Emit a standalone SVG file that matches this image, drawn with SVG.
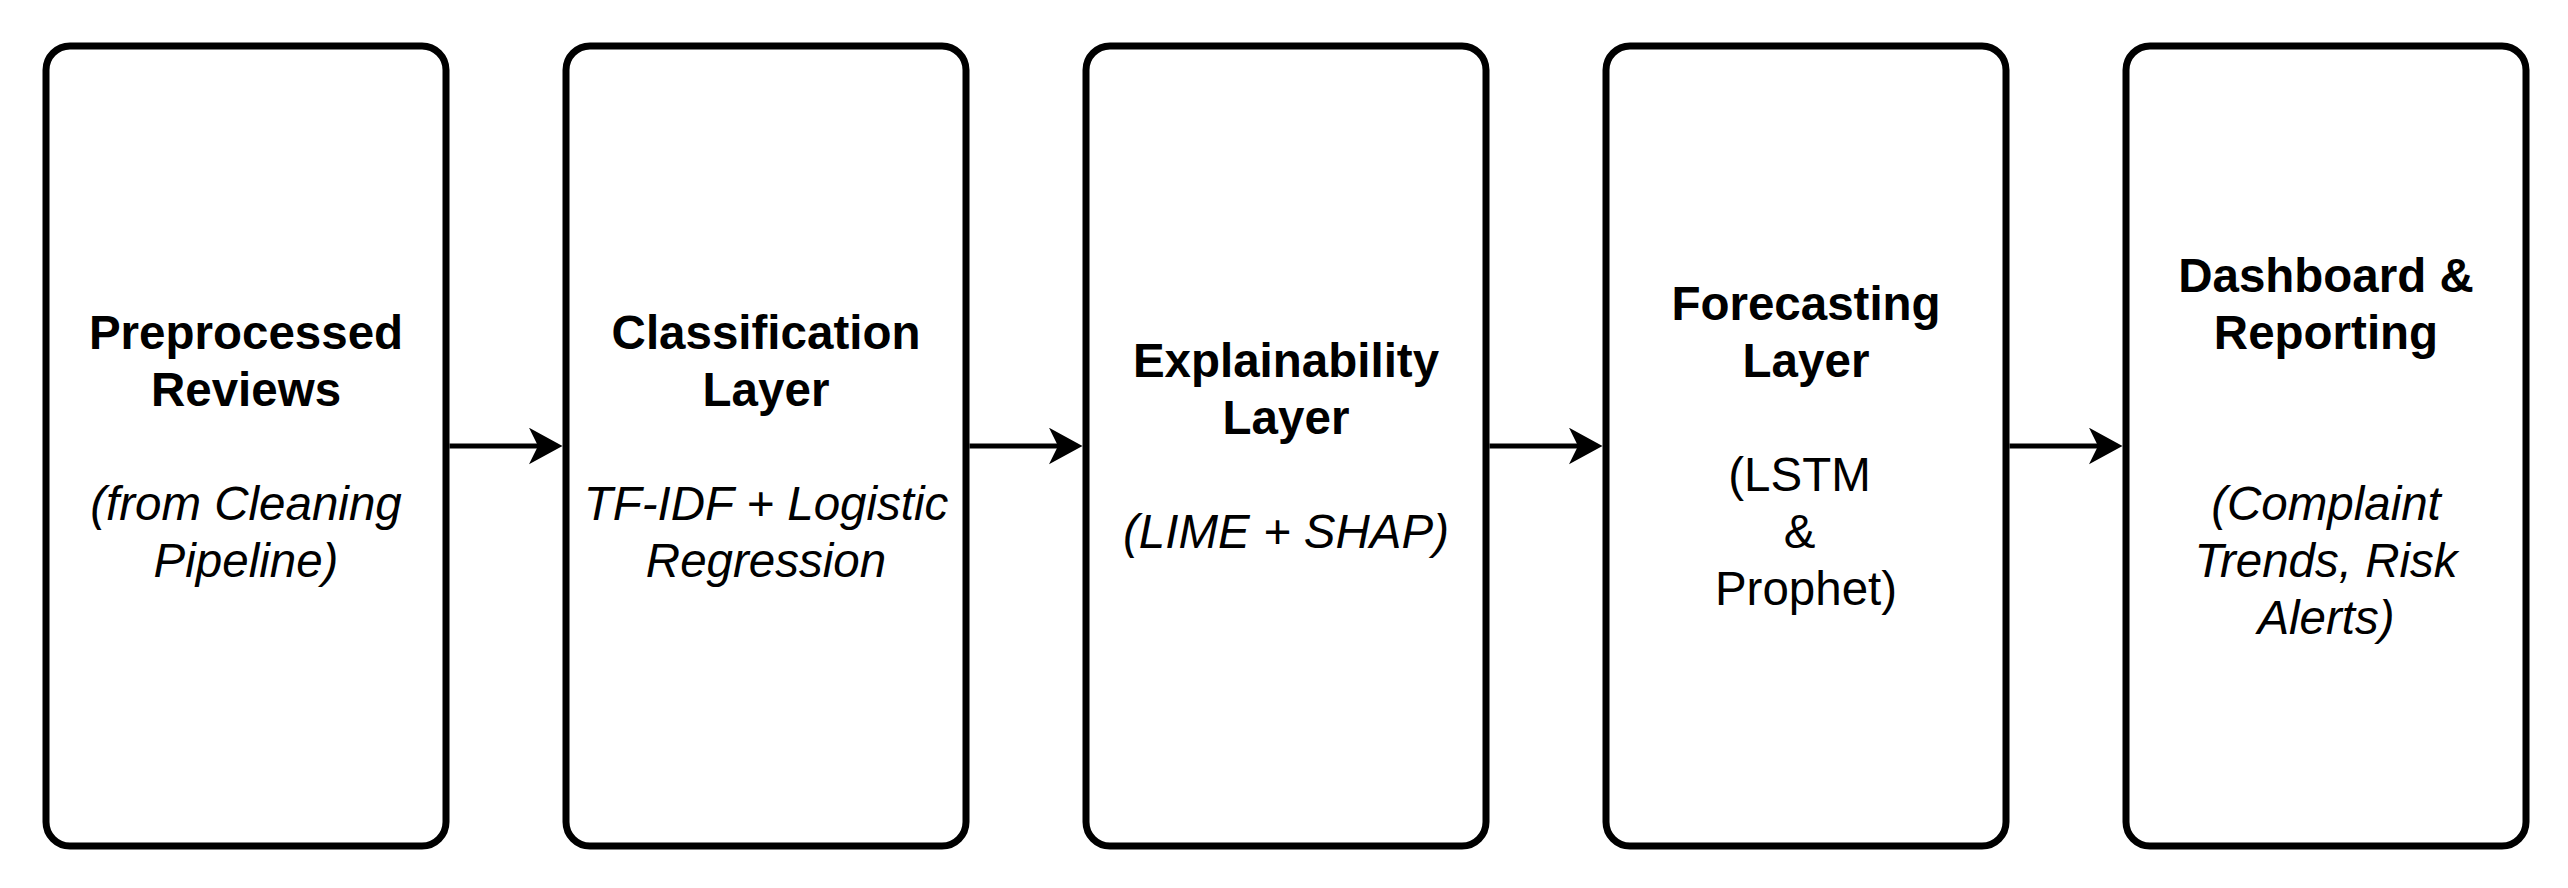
<svg xmlns="http://www.w3.org/2000/svg" width="2568" height="888" viewBox="0 0 2568 888">
<defs>
<style>
.box{fill:#ffffff;stroke:#000000;stroke-width:7}
.conn{stroke:#000000;stroke-width:5;fill:none}
text{font-family:"Liberation Sans",Arial,Helvetica,sans-serif;font-size:47.5px;fill:#000000;text-anchor:middle}
.b{font-weight:bold}
.i{font-style:italic}
</style>
<marker id="arr" markerUnits="userSpaceOnUse" markerWidth="40" markerHeight="40" viewBox="0 0 40 40" refX="9" refY="18.3" orient="auto">
<path d="M0,0 L33.5,18.3 L0,36.6 L9,18.3 Z" fill="#000000"/>
</marker>
</defs>
<rect x="0" y="0" width="2568" height="888" fill="#ffffff"/>
<g id="connectors">
<line class="conn" x1="449.5" y1="446" x2="538" y2="446" marker-end="url(#arr)"/>
<line class="conn" x1="969.5" y1="446" x2="1058" y2="446" marker-end="url(#arr)"/>
<line class="conn" x1="1489.5" y1="446" x2="1578" y2="446" marker-end="url(#arr)"/>
<line class="conn" x1="2009.5" y1="446" x2="2098" y2="446" marker-end="url(#arr)"/>
</g>
<g id="node-preprocessed">
<rect class="box" x="46" y="46" width="400" height="800" rx="24" ry="24"/>
<text class="b" x="246" y="348.5">Preprocessed</text>
<text class="b" x="246" y="405.5">Reviews</text>
<text class="i" x="246" y="519.5">(from Cleaning</text>
<text class="i" x="246" y="576.5">Pipeline)</text>
</g>
<g id="node-classification">
<rect class="box" x="566" y="46" width="400" height="800" rx="24" ry="24"/>
<text class="b" x="766" y="348.5">Classification</text>
<text class="b" x="766" y="405.5">Layer</text>
<text class="i" x="766" y="519.5">TF-IDF + Logistic</text>
<text class="i" x="766" y="576.5">Regression</text>
</g>
<g id="node-explainability">
<rect class="box" x="1086" y="46" width="400" height="800" rx="24" ry="24"/>
<text class="b" x="1286" y="377">Explainability</text>
<text class="b" x="1286" y="434">Layer</text>
<text class="i" x="1286" y="548">(LIME + SHAP)</text>
</g>
<g id="node-forecasting">
<rect class="box" x="1606" y="46" width="400" height="800" rx="24" ry="24"/>
<text class="b" x="1806" y="320">Forecasting</text>
<text class="b" x="1806" y="377">Layer</text>
<text x="1799.5" y="491">(LSTM</text>
<text x="1799.5" y="548">&amp;</text>
<text x="1806" y="605">Prophet)</text>
</g>
<g id="node-dashboard">
<rect class="box" x="2126" y="46" width="400" height="800" rx="24" ry="24"/>
<text class="b" x="2326" y="291.5">Dashboard &amp;</text>
<text class="b" x="2326" y="348.5">Reporting</text>
<text class="i" x="2326" y="519.5">(Complaint</text>
<text class="i" x="2326" y="576.5">Trends, Risk</text>
<text class="i" x="2326" y="633.5">Alerts)</text>
</g>
</svg>
